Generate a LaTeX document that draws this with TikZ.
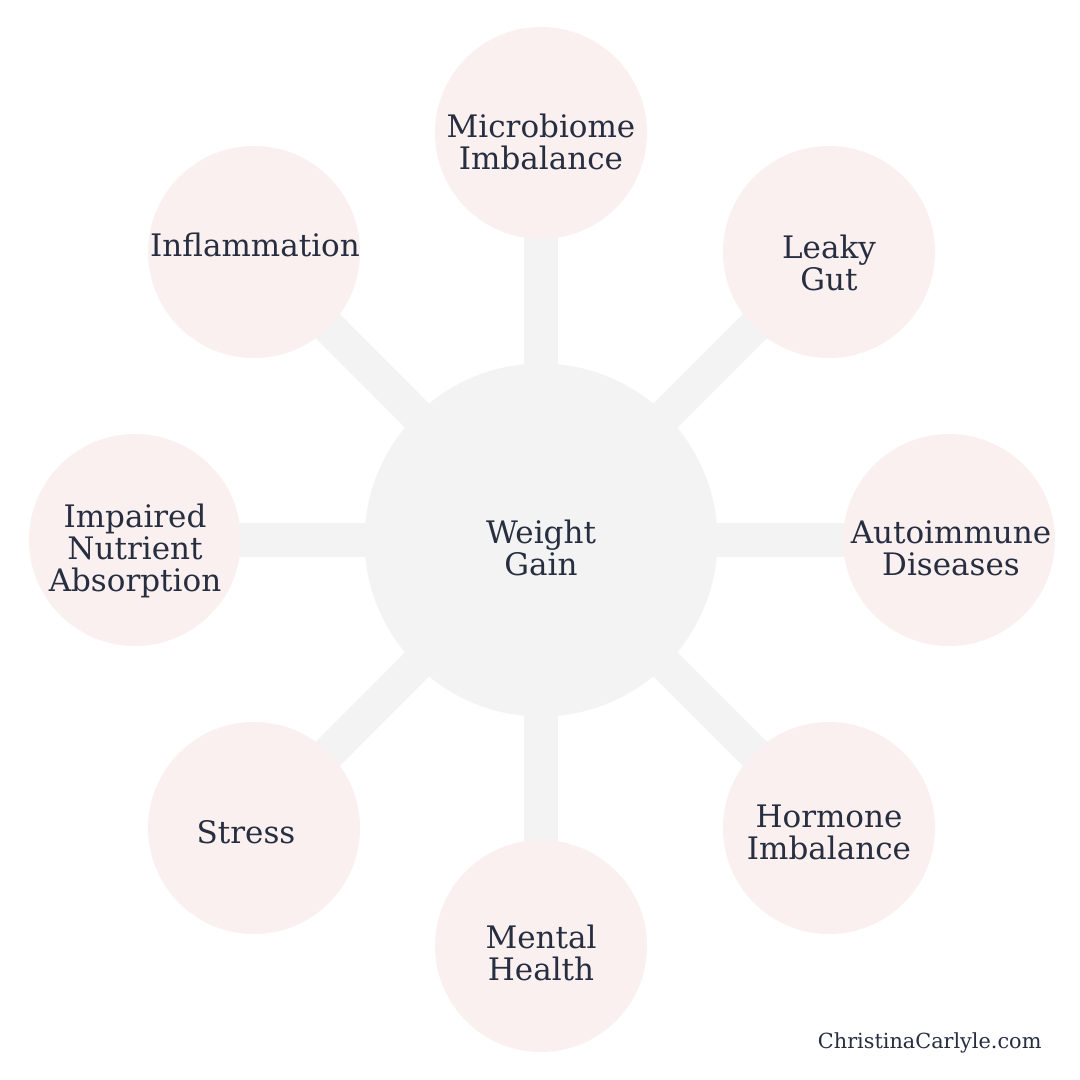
\documentclass[tikz,border=0pt]{standalone}
\usepackage{fontspec}
\setmainfont{DejaVu Serif}
\usepackage{tikz}
\usetikzlibrary{positioning,calc}

\definecolor{pinkfill}{HTML}{FBF0F0}
\definecolor{hubgray}{HTML}{F3F3F3}
\definecolor{inkblue}{HTML}{262E40}

\begin{document}
\begin{tikzpicture}[x=1pt,y=-1pt,
    cause/.style={circle,fill=pinkfill,minimum size=212pt,inner sep=0pt},
    hub/.style={circle,fill=hubgray,minimum size=353pt,inner sep=0pt},
    word/.style={text=inkblue,align=center,inner sep=0pt,
      font=\fontsize{31}{32}\selectfont},
    spoke/.style={draw=hubgray,line width=34pt}]
  \useasboundingbox (0,0) rectangle (1080,1080);
  \fill[white] (0,0) rectangle (1080,1080);
  % centre and the eight causes
  \coordinate (W) at (541,540);
  \coordinate (C1) at (541,133);
  \coordinate (C2) at (829,252);
  \coordinate (C3) at (949,540);
  \coordinate (C4) at (829,828);
  \coordinate (C5) at (541,946);
  \coordinate (C6) at (254,828);
  \coordinate (C7) at (135,540);
  \coordinate (C8) at (254,252);
  \foreach \i in {1,...,8}
    \draw[spoke] (W) -- (C\i);
  \node[hub] (gain) at (W) {};
  \foreach \i in {1,...,8}
    \node[cause] (cause\i) at (C\i) {};
  % texts
  \node[word] (gainT) at ($(W)+(0,8)$) {Weight\\Gain};
  \node[word] (microT) at ($(C1)+(0,9)$) {Microbiome\\Imbalance};
  \node[word] (leakyT) at ($(C2)+(0,11)$) {Leaky\\Gut};
  \node[word] (autoT) at ($(C3)+(2,8)$) {Autoimmune\\Diseases};
  \node[word] (hormoneT) at ($(C4)+(0,4)$) {Hormone\\Imbalance};
  \node[word] (mentalT) at ($(C5)+(0,7)$) {Mental\\Health};
  \node[word] (stressT) at ($(C6)+(-8,4)$) {Stress};
  \node[word] (absorbT) at ($(C7)+(0,11)$) {Impaired\\Nutrient\\Absorption};
  \node[word] (inflamT) at ($(C8)+(1,-7)$) {Inflammation};
  % site name
  \node[text=inkblue,font=\fontsize{20.8}{24}\selectfont,anchor=east] (site)
    at (1045,1043) {ChristinaCarlyle.com};
\end{tikzpicture}
\end{document}
